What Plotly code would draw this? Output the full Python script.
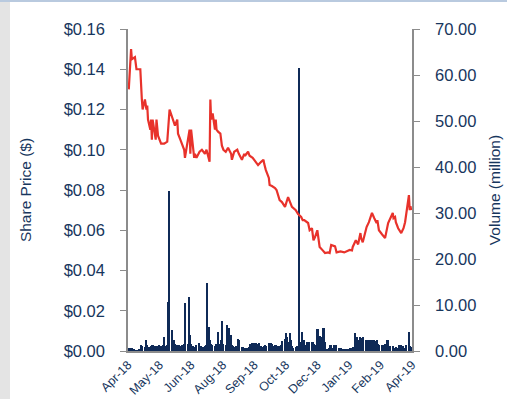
import plotly.graph_objects as go
import pandas as pd

# ---------------- data ----------------
price_dates = [
    "2018-04-02","2018-04-05","2018-04-06","2018-04-10","2018-04-12","2018-04-17","2018-04-19","2018-04-20",
    "2018-04-23","2018-04-25","2018-04-26","2018-04-27","2018-04-30","2018-05-01","2018-05-02","2018-05-03",
    "2018-05-07","2018-05-08","2018-05-10","2018-05-14","2018-05-18","2018-05-22","2018-05-25","2018-05-28",
    "2018-06-01","2018-06-04","2018-06-05","2018-06-08","2018-06-13","2018-06-14","2018-06-18","2018-06-20",
    "2018-06-21","2018-06-22","2018-06-26","2018-06-27","2018-06-29","2018-07-03","2018-07-06","2018-07-10",
    "2018-07-12","2018-07-16","2018-07-17","2018-07-18","2018-07-20","2018-07-23","2018-07-24","2018-07-25",
    "2018-07-27","2018-07-30","2018-08-01","2018-08-03","2018-08-06","2018-08-09","2018-08-13","2018-08-14",
    "2018-08-17","2018-08-21","2018-08-23","2018-08-27","2018-08-30","2018-08-31","2018-09-04","2018-09-06",
    "2018-09-10","2018-09-14","2018-09-17","2018-09-21","2018-09-24","2018-09-25","2018-09-27","2018-10-01",
    "2018-10-02","2018-10-05","2018-10-09","2018-10-11","2018-10-15","2018-10-18","2018-10-22","2018-10-26",
    "2018-10-29","2018-10-31","2018-11-05","2018-11-08","2018-11-12","2018-11-14","2018-11-16","2018-11-21",
    "2018-11-23","2018-11-26","2018-11-28","2018-11-30","2018-12-03","2018-12-06","2018-12-10","2018-12-13",
    "2018-12-17","2018-12-19","2018-12-21","2018-12-26","2018-12-28","2019-01-02","2019-01-07","2019-01-11",
    "2019-01-14","2019-01-17","2019-01-18","2019-01-22","2019-01-25","2019-01-28","2019-01-29","2019-01-31",
    "2019-02-05","2019-02-08","2019-02-12","2019-02-15","2019-02-18","2019-02-19","2019-02-21","2019-02-25",
    "2019-03-01","2019-03-05","2019-03-11","2019-03-12","2019-03-14","2019-03-15","2019-03-18","2019-03-22",
    "2019-03-25","2019-03-27","2019-04-01","2019-04-02","2019-04-03","2019-04-04",
]
share_price = [
    0.130,0.150,0.145,0.146,0.140,0.140,0.125,0.120,
    0.125,0.120,0.122,0.115,0.110,0.115,0.105,0.115,
    0.105,0.115,0.107,0.103,0.103,0.104,0.120,0.117,
    0.112,0.115,0.108,0.105,0.100,0.096,0.105,0.110,
    0.098,0.110,0.096,0.098,0.096,0.099,0.100,0.098,
    0.100,0.094,0.125,0.115,0.118,0.110,0.115,0.110,
    0.109,0.108,0.102,0.100,0.099,0.101,0.098,0.095,
    0.099,0.100,0.098,0.095,0.098,0.097,0.099,0.097,
    0.096,0.094,0.0924,0.094,0.095,0.093,0.090,0.086,
    0.0825,0.082,0.081,0.080,0.075,0.074,0.0716,0.0765,
    0.074,0.0716,0.070,0.068,0.0666,0.065,0.065,0.0636,
    0.060,0.061,0.055,0.0566,0.060,0.0517,0.050,0.0487,
    0.049,0.0487,0.0527,0.052,0.049,0.0495,0.049,0.0495,
    0.0502,0.050,0.0517,0.055,0.053,0.0586,0.056,0.054,
    0.0616,0.064,0.0686,0.066,0.0636,0.065,0.060,0.058,
    0.0561,0.0636,0.0686,0.066,0.0666,0.064,0.061,0.0586,
    0.061,0.064,0.0775,0.070,0.072,0.070,
]

# daily traded volume (million), one value per trading day from 2 Apr 2018
volume_start = "2018-04-02"
volume = [
    0.5,0.7,0.6,0.5,0.6,0.3,0.2,0.2,0.2,0.2,
    0.3,0.5,1.3,0.9,1.0,0.8,0.9,2.3,1.2,0.8,
    0.9,1.0,1.2,0.7,1.2,1.0,0.8,1.0,0.7,1.2,
    1.0,0.8,1.0,1.3,3.0,1.0,1.4,10.7,34.8,5.0,
    4.5,2.0,1.8,2.4,1.6,1.4,1.1,1.2,0.8,1.0,
    1.2,1.1,1.5,1.3,10.4,1.6,1.2,11.8,3.5,1.5,
    1.0,0.7,0.9,1.2,0.8,1.7,0.9,0.6,1.1,0.8,
    0.8,1.0,0.9,1.2,14.8,5.2,2.5,1.5,1.2,1.4,
    1.0,1.2,1.5,1.2,4.2,1.5,2.5,6.6,3.0,1.5,
    1.2,1.0,5.6,2.0,5.0,3.5,1.2,1.0,1.0,0.9,
    1.0,1.0,2.7,2.5,1.0,0.8,0.7,0.9,0.7,0.6,
    0.7,0.6,0.8,0.7,1.6,1.8,1.5,1.8,1.6,1.7,
    1.5,1.8,1.2,1.0,1.0,0.8,1.0,1.2,1.0,0.9,
    1.0,1.8,1.8,1.7,1.6,1.0,1.2,1.3,1.3,1.0,
    1.0,0.8,1.2,1.5,2.2,2.7,2.7,4.0,3.0,2.0,
    4.0,2.5,1.0,0.8,0.7,0.8,0.6,1.0,0.9,61.5,
    2.0,4.2,3.0,2.5,2.5,1.3,2.0,2.0,1.8,2.0,
    2.0,1.8,2.0,1.5,1.2,4.8,4.8,2.5,1.5,3.3,
    3.0,5.0,5.0,2.0,0.5,0.4,0.6,0.5,1.3,1.2,
    0.6,1.3,0.6,1.2,0.6,0.5,0.6,0.5,0.6,0.4,
    0.4,0.5,0.4,0.5,0.4,0.5,0.6,0.5,0.6,0.8,
    3.9,2.4,2.3,3.0,2.5,3.0,2.8,1.5,1.3,3.0,
    2.3,2.0,2.3,1.2,2.4,2.5,2.3,1.5,1.2,2.3,
    2.2,2.3,1.5,1.3,1.2,1.3,1.0,1.0,1.2,1.5,
    2.5,2.4,1.0,0.9,1.0,1.0,0.8,0.7,0.6,0.8,
    0.7,0.6,1.3,1.2,1.3,1.0,0.7,0.6,0.7,1.2,
    4.2,3.8,1.0,0.8,
]
volume_dates = pd.bdate_range(volume_start, periods=len(volume))

x_range = ["2018-04-01", "2019-04-05"]
tick_start = "2018-04-01"
tick_step_days = 41

# ---------------- style ----------------
NAVY = "#17365D"
BAR = "#0F2A57"
RED = "#E8322B"
AXIS = "#8C8C8C"
FONT = "Liberation Sans, Arial, sans-serif"
DAY_MS = 86400000

fig = go.Figure()
fig.add_trace(go.Bar(
    x=volume_dates, y=volume, yaxis="y", marker=dict(color=BAR, line=dict(width=0)),
    width=1.9 * DAY_MS, showlegend=False,
))
fig.add_trace(go.Scatter(
    x=pd.to_datetime(price_dates), y=share_price, yaxis="y2", mode="lines",
    line=dict(color=RED, width=2.2), showlegend=False,
))

W, H = 507, 399
L, R, T, B = 128, 95, 29, 48
pw, ph = W - L - R, H - T - B

def px_x(x):
    return (x - L) / pw

def px_y(y):
    return (H - B - y) / ph

fig.update_layout(
    width=W, height=H,
    margin=dict(l=L, r=R, t=T, b=B, pad=0, autoexpand=False),
    paper_bgcolor="white", plot_bgcolor="white",
    font=dict(family=FONT, color=NAVY),
    bargap=0,
    xaxis=dict(
        type="date", range=x_range, tickmode="linear", tick0=tick_start,
        dtick=tick_step_days * DAY_MS, tickformat="%b-%y", tickangle=-45,
        showline=True, linecolor=AXIS, linewidth=1.5, ticks="", showgrid=False,
        tickfont=dict(size=12.5, color=NAVY), zeroline=False, automargin=False,
    ),
    yaxis=dict(
        side="right", range=[0, 70], dtick=10, tickformat=".2f",
        showline=True, linecolor=AXIS, linewidth=1.5, ticks="outside",
        ticklen=6, tickcolor=AXIS, showgrid=False, zeroline=False,
        tickfont=dict(size=16.5, color=NAVY), ticklabelstandoff=12, automargin=False,
        title=dict(text="Volume (million)", font=dict(size=15.5, color=NAVY), standoff=14),
    ),
    yaxis2=dict(
        side="left", overlaying="y", range=[0, 0.16], dtick=0.02, tickformat="$.2f",
        showline=True, linecolor=AXIS, linewidth=1.5, ticks="outside",
        ticklen=6, tickcolor=AXIS, showgrid=False, zeroline=False,
        tickfont=dict(size=16.5, color=NAVY), ticklabelstandoff=12, automargin=False,
        title=dict(text="Share Price ($)", font=dict(size=15.5, color=NAVY), standoff=28),
    ),
    shapes=[
        dict(type="rect", xref="paper", yref="paper", layer="below",
             x0=px_x(0), x1=px_x(10), y0=px_y(H), y1=px_y(0),
             fillcolor="#E4E4E4", line=dict(width=0)),
        dict(type="rect", xref="paper", yref="paper", layer="below",
             x0=px_x(0), x1=px_x(W), y0=px_y(2), y1=px_y(0),
             fillcolor="#B9CADF", line=dict(width=0)),
    ],
)

fig.write_html("out.html")
